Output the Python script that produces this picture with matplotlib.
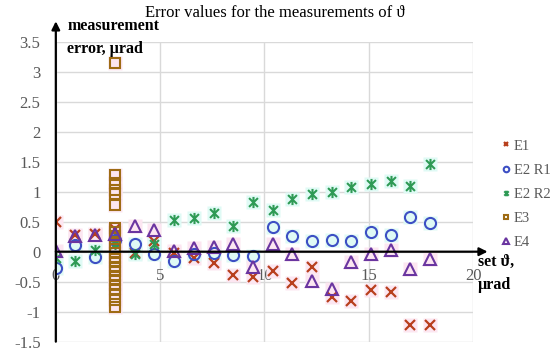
import matplotlib.pyplot as plt
from matplotlib.path import Path

# set angle values, µrad
x_set = [0, 0.94, 1.89, 2.83, 3.78, 4.72, 5.67, 6.61, 7.56, 8.5,
         9.44, 10.39, 11.33, 12.28, 13.22, 14.17, 15.11, 16.06, 17.0, 17.94]

e1 = [0.49, 0.28, 0.29, 0.38, -0.02, 0.18, -0.03, -0.11, -0.19, -0.39,
      -0.42, -0.33, -0.52, -0.25, -0.75, -0.83, -0.64, -0.68, -1.23, -1.23]
e2r1 = [-0.27, 0.11, -0.09, 0.19, 0.13, -0.04, -0.15, -0.04, -0.02, -0.05,
        -0.08, 0.41, 0.26, 0.18, 0.19, 0.17, 0.32, 0.28, 0.58, 0.47]
e2r2 = [-0.1, -0.16, 0.03, 0.12, -0.04, 0.13, 0.53, 0.56, 0.65, 0.43,
        0.82, 0.69, 0.87, 0.96, 1.0, 1.08, 1.13, 1.17, 1.1, 1.46]
e4 = [0.01, 0.26, 0.27, 0.3, 0.42, 0.36, 0.01, 0.06, 0.08, 0.13,
      -0.26, 0.12, -0.04, -0.49, -0.63, -0.18, -0.04, 0.03, -0.29, -0.13]

# E3 only measured at one set value
e3_x = 2.83
e3 = [3.15, 1.28, 1.15, 1.03, 0.96, 0.77, 0.4, 0.33, 0.26, 0.15, 0.05,
      -0.03, -0.1, -0.17, -0.25, -0.32, -0.4, -0.47, -0.55, -0.62, -0.7,
      -0.8, -0.92]

c_e1 = '#B8401E'
c_e2r1 = '#3D4FC4'
c_e2r2 = '#2E9A55'
c_e3 = '#9E6B14'
c_e4 = '#6A35A0'
pink = '#FCE6F1'
cyan = '#DFFAF5'

star = Path([(-1, -1), (1, 1), (-1, 1), (1, -1), (0, -1.25), (0, 1.25)],
            [Path.MOVETO, Path.LINETO, Path.MOVETO, Path.LINETO, Path.MOVETO, Path.LINETO])

plt.rcParams['font.family'] = ['Liberation Serif', 'DejaVu Serif']

fig = plt.figure(figsize=(5.5, 3.57), dpi=100)
ax = fig.add_axes([0.1015, 0.0429, 0.7585, 0.8403])

ax.set_xlim(0, 20)
ax.set_ylim(-1.5, 3.5)
ax.set_xticks([0, 5, 10, 15, 20])
ax.set_yticks([-1.5, -1, -0.5, 0, 0.5, 1, 1.5, 2, 2.5, 3, 3.5])
ax.set_yticklabels(['-1.5', '-1', '-0.5', '0', '0.5', '1', '1.5', '2', '2.5', '3', '3.5'])
ax.grid(True, color='#d9d9d9', lw=1)
ax.set_axisbelow(True)
for s in ['top', 'right', 'left']:
    ax.spines[s].set_visible(False)
ax.spines['bottom'].set_position(('data', 0))
ax.spines['bottom'].set_color('none')
ax.tick_params(axis='both', length=0, labelsize=12, labelcolor='#595959')
ax.tick_params(axis='y', pad=11)
ax.tick_params(axis='x', pad=12)

# pale halos behind markers
def halo(xs, ys, col):
    ax.plot(xs, ys, ls='none', marker='s', ms=10, mfc=col, mec='none', zorder=1.5)

halo(x_set, e1, pink)
halo(x_set, e2r1, cyan)
halo(x_set, e2r2, cyan)
halo([e3_x] * len(e3), e3, pink)
halo(x_set, e4, pink)

ax.plot(x_set, e1, ls='none', marker='x', ms=7, mew=1.6, color=c_e1, label='E1', zorder=3)
ax.plot(x_set, e2r1, ls='none', marker='o', ms=8, mew=1.5, mfc='none', mec=c_e2r1, label='E2 R1', zorder=3)
ax.plot(x_set, e2r2, ls='none', marker=star, ms=8, mew=1.5, color=c_e2r2, label='E2 R2', zorder=3)
ax.plot([e3_x] * len(e3), e3, ls='none', marker='s', ms=7, mew=1.5, mfc='none', mec=c_e3, label='E3', zorder=3)
ax.plot(x_set, e4, ls='none', marker='^', ms=8, mew=1.5, mfc='none', mec=c_e4, label='E4', zorder=3)

# axes with arrows
ax.annotate('', xy=(20.7, 0), xytext=(0, 0), annotation_clip=False,
            arrowprops=dict(arrowstyle='-|>', lw=1.6, color='black', mutation_scale=12, shrinkA=0, shrinkB=0), zorder=4)
ax.annotate('', xy=(0, 3.84), xytext=(0, -1.5), annotation_clip=False,
            arrowprops=dict(arrowstyle='-|>', lw=1.6, color='black', mutation_scale=12, shrinkA=0, shrinkB=0), zorder=4)

ax.text(0.55, 3.76, 'measurement', fontsize=11.5, fontweight='bold', ha='left', va='center')
ax.text(0.55, 3.38, 'error, µrad', fontsize=11.5, fontweight='bold', ha='left', va='center')
ax.text(20.25, -0.17, 'set ϑ,', fontsize=11.5, fontweight='bold', ha='left', va='center')
ax.text(20.25, -0.56, 'µrad', fontsize=11.5, fontweight='bold', ha='left', va='center')

fig.text(0.5, 0.963, 'Error values for the measurements of ϑ', fontsize=12, ha='center', va='center')

ax.legend(loc='upper left', bbox_to_anchor=(0.9, 0.63), bbox_transform=fig.transFigure,
          frameon=False, fontsize=10.5, labelcolor='#595959', handlelength=0.5, handletextpad=0.3,
          labelspacing=0.75, markerscale=0.5, borderpad=0)

fig.savefig('out.png', dpi=100)
